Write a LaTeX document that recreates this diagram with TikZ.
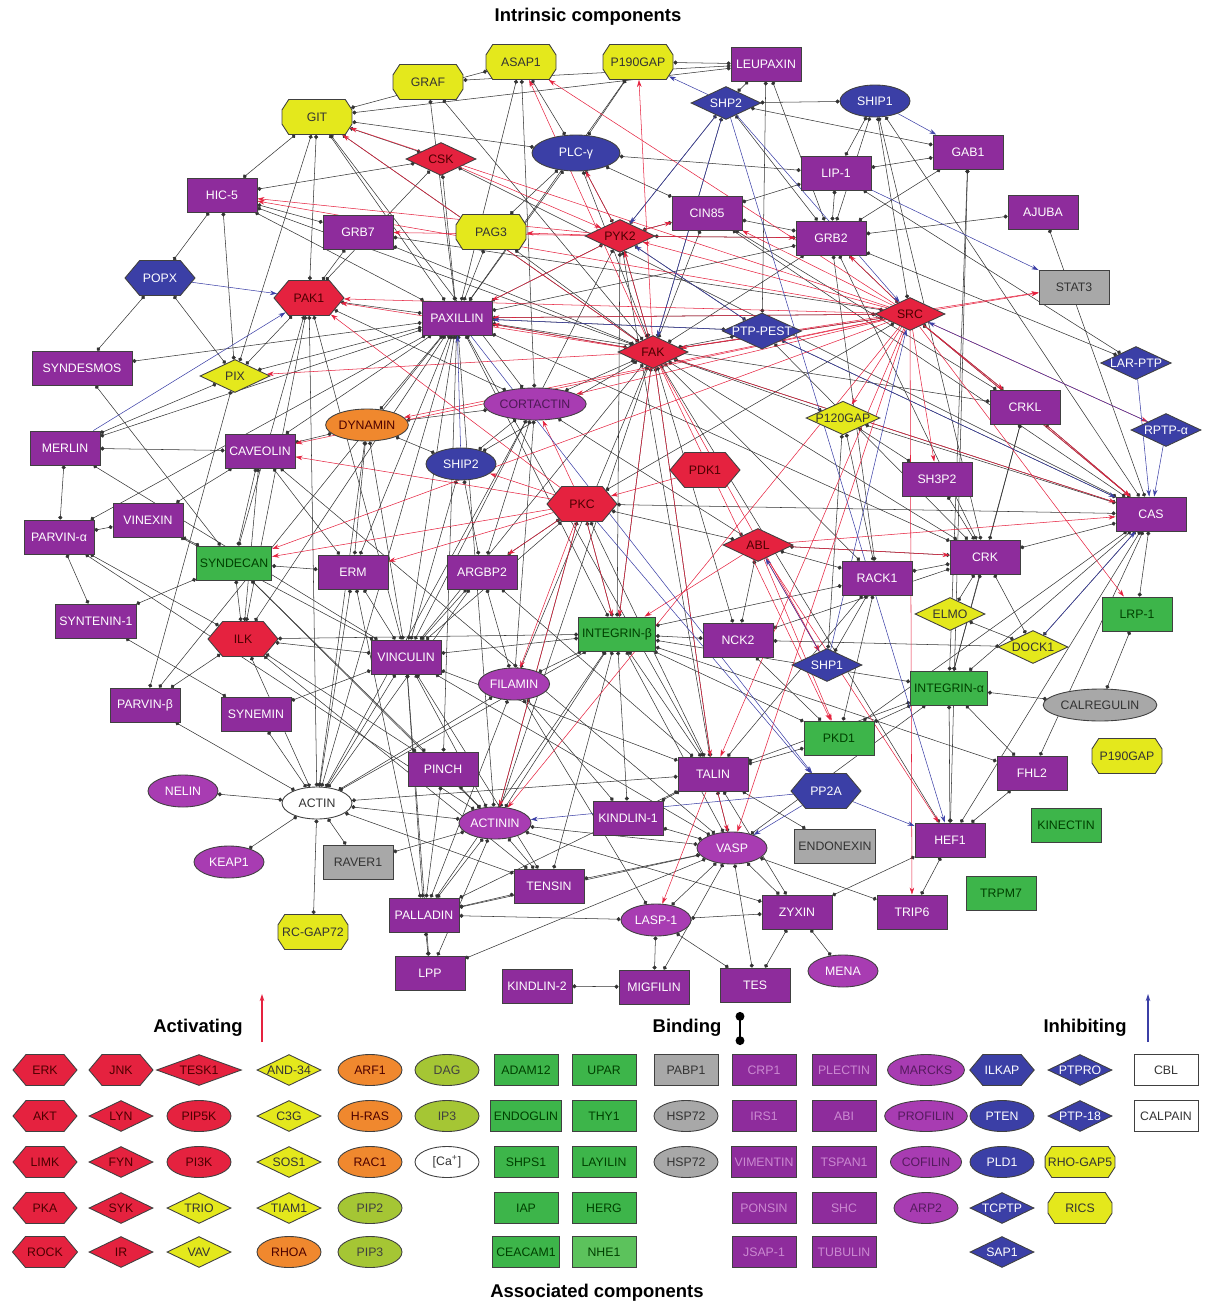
\documentclass[tikz,border=0pt]{standalone}
\usepackage{fontspec}
\setmainfont{Liberation Sans}
\usetikzlibrary{shapes.geometric,shapes.misc,shapes.symbols,arrows.meta,backgrounds}

\definecolor{mpur}{HTML}{8E2C9C}
\definecolor{lpur}{HTML}{A83CB2}
\definecolor{mblu}{HTML}{3B3FA6}
\definecolor{mred}{HTML}{E5223F}
\definecolor{myel}{HTML}{E4E81C}
\definecolor{mgrn}{HTML}{3DB54A}
\definecolor{lgrn}{HTML}{5CC25C}
\definecolor{mora}{HTML}{F0882E}
\definecolor{mgry}{HTML}{A8A8A8}
\definecolor{mlim}{HTML}{A5C634}

\tikzset{
  base/.style={draw=black!75, line width=0.5pt, font=\fontsize{7}{8}\selectfont, inner sep=2pt},
  box/.style={base, rectangle, minimum width=1.4cm, minimum height=0.68cm},
  ell/.style={base, ellipse, minimum width=1.4cm, minimum height=0.64cm, inner sep=0.5pt},
  dia/.style={base, diamond, aspect=2.2, minimum width=1.4cm, minimum height=0.66cm, inner sep=0pt},
  hexa/.style={base, signal, signal to=east and west, signal pointer angle=100, minimum width=1.4cm, minimum height=0.7cm, inner sep=1pt},
  oct/.style={base, chamfered rectangle, chamfered rectangle xsep=0.3cm, chamfered rectangle ysep=0.12cm, chamfered rectangle angle=33, minimum width=1.4cm, minimum height=0.7cm, inner sep=0pt},
  fpur/.style={fill=mpur, text=white},
  flpur/.style={fill=lpur, text=white},
  fblu/.style={fill=mblu, text=white},
  fred/.style={fill=mred, text=black!70!red},
  fyel/.style={fill=myel, text=black!80},
  fgrn/.style={fill=mgrn, text=black!75!green},
  fora/.style={fill=mora, text=black!70!red},
  fgry/.style={fill=mgry, text=black!80},
  fwht/.style={fill=white, text=black!80},
  flim/.style={fill=mlim, text=black!75},
  lg/.style={minimum width=1.28cm, minimum height=0.62cm},
  bind/.style={arrows={Circle[length=2.3pt]-Circle[length=2.3pt]}, draw=black!80, line width=0.3pt},
  act/.style={arrows={-Stealth[length=4pt,width=2.6pt]}, draw=mred, line width=0.3pt},
  inh/.style={arrows={-Stealth[length=4pt,width=2.6pt]}, draw=mblu, line width=0.3pt},
  ttl/.style={font=\fontsize{10.5}{12}\selectfont\bfseries}
}

\begin{document}
\begin{tikzpicture}[x=0.02cm, y=-0.02cm]
\useasboundingbox (0,0) rectangle (1220,1304);
% titles
\node[ttl] (tintr) at (588,17) {Intrinsic components};
\node[ttl] (tassoc) at (597,1293) {Associated components};

% intrinsic components
\node[oct,fyel] (graf) at (428,82) {GRAF};
\node[oct,fyel] (asap) at (521,62) {ASAP1};
\node[oct,fyel] (pgap) at (638,62) {P190GAP};
\node[box,fpur] (leup) at (766,64) {LEUPAXIN};
\node[oct,fyel] (git) at (317,117) {GIT};
\node[dia,fblu] (shpt) at (726,103) {SHP2};
\node[ell,fblu] (shipo) at (875,101) {SHIP1};
\node[dia,fred] (csk) at (441,159) {CSK};
\node[ell,fblu,minimum width=1.76cm,minimum height=0.72cm] (plc) at (576,153) {PLC-γ};
\node[box,fpur] (gab) at (968,152) {GAB1};
\node[box,fpur] (lip) at (836,173) {LIP-1};
\node[box,fpur] (hic) at (222,195) {HIC-5};
\node[box,fpur] (grbs) at (358,232) {GRB7};
\node[oct,fyel] (pag) at (491,232) {PAG3};
\node[dia,fred] (pyk) at (620,236) {PYK2};
\node[box,fpur] (cin) at (707,213) {CIN85};
\node[box,fpur] (grbt) at (831,238) {GRB2};
\node[box,fpur] (ajuba) at (1043,212) {AJUBA};
\node[hexa,fblu] (popx) at (160,278) {POPX};
\node[hexa,fred] (pak) at (309,298) {PAK1};
\node[box,fpur] (pax) at (457,318) {PAXILLIN};
\node[box,fgry] (stat) at (1074,287) {STAT3};
\node[dia,fblu] (pest) at (762,331) {PTP-PEST};
\node[dia,fred] (src) at (910,314) {SRC};
\node[dia,fred] (fak) at (653,352) {FAK};
\node[box,fpur,minimum width=2cm] (synd) at (82,368) {SYNDESMOS};
\node[dia,fyel] (pix) at (235,376) {PIX};
\node[dia,fblu] (lar) at (1136,363) {LAR-PTP};
\node[ell,flpur,text=mpur!55!black] (cort) at (535,404) {CORTACTIN};
\node[ell,fora] (dyn) at (367,425) {DYNAMIN};
\node[dia,fyel] (pcgap) at (843,418) {P120GAP};
\node[box,fpur] (crkl) at (1025,407) {CRKL};
\node[dia,fblu] (rptp) at (1166,430) {RPTP-α};
\node[box,fpur] (merlin) at (65,448) {MERLIN};
\node[box,fpur] (cav) at (260,451) {CAVEOLIN};
\node[ell,fblu] (shiptwo) at (461,464) {SHIP2};
\node[hexa,fred] (pdk) at (705,470) {PDK1};
\node[box,fpur] (shtp) at (937,479) {SH3P2};
\node[hexa,fred] (pkc) at (582,504) {PKC};
\node[box,fpur] (cas) at (1151,514) {CAS};
\node[box,fpur] (parva) at (59,537) {PARVIN-α};
\node[box,fpur] (vinex) at (148,520) {VINEXIN};
\node[box,fgrn] (syndc) at (234,563) {SYNDECAN};
\node[box,fpur] (erm) at (353,572) {ERM};
\node[box,fpur] (argbp) at (482,572) {ARGBP2};
\node[dia,fred] (abl) at (758,545) {ABL};
\node[box,fpur] (crk) at (985,557) {CRK};
\node[box,fpur] (rack) at (877,578) {RACK1};
\node[box,fpur] (synt) at (96,621) {SYNTENIN-1};
\node[hexa,fred] (ilk) at (243,639) {ILK};
\node[box,fgrn] (intb) at (617,634) {INTEGRIN-β};
\node[box,fpur] (nck) at (738,640) {NCK2};
\node[dia,fyel] (elmo) at (950,614) {ELMO};
\node[box,fgrn] (lrp) at (1137,614) {LRP-1};
\node[dia,fyel] (dock) at (1033,647) {DOCK1};
\node[box,fpur] (vinc) at (406,657) {VINCULIN};
\node[dia,fblu] (shpo) at (827,665) {SHP1};
\node[ell,flpur] (fil) at (514,684) {FILAMIN};
\node[box,fpur] (parvb) at (145,705) {PARVIN-β};
\node[box,fpur] (synem) at (256,714) {SYNEMIN};
\node[box,fgrn] (inta) at (949,688) {INTEGRIN-α};
\node[ell,fgry,minimum width=1.88cm] (calr) at (1100,705) {CALREGULIN};
\node[oct,fyel] (pgapr) at (1127,756) {P190GAP};
\node[box,fgrn] (pkd) at (839,738) {PKD1};
\node[box,fpur] (pinch) at (443,769) {PINCH};
\node[ell,flpur] (nelin) at (183,791) {NELIN};
\node[ell,fwht] (actin) at (317,803) {ACTIN};
\node[box,fpur] (talin) at (713,774) {TALIN};
\node[hexa,fblu] (ppa) at (826,791) {PP2A};
\node[box,fpur] (fhl) at (1032,773) {FHL2};
\node[ell,flpur] (actn) at (495,823) {ACTININ};
\node[box,fpur] (kinda) at (628,818) {KINDLIN-1};
\node[box,fgrn] (kinec) at (1066,825) {KINECTIN};
\node[box,fpur] (hef) at (950,840) {HEF1};
\node[ell,flpur] (vasp) at (732,848) {VASP};
\node[box,fgry] (endo) at (835,846) {ENDONEXIN};
\node[ell,flpur] (keap) at (229,862) {KEAP1};
\node[box,fgry] (raver) at (358,862) {RAVER1};
\node[box,fpur] (tensin) at (549,886) {TENSIN};
\node[box,fgrn] (trpm) at (1001,893) {TRPM7};
\node[box,fpur] (pall) at (424,915) {PALLADIN};
\node[ell,flpur] (lasp) at (656,920) {LASP-1};
\node[box,fpur] (zyxin) at (797,912) {ZYXIN};
\node[box,fpur] (trip) at (912,912) {TRIP6};
\node[oct,fyel] (rcgap) at (313,932) {RC-GAP72};
\node[ell,flpur] (mena) at (843,971) {MENA};
\node[box,fpur] (lpp) at (430,973) {LPP};
\node[box,fpur] (kindb) at (537,986) {KINDLIN-2};
\node[box,fpur] (migf) at (654,987) {MIGFILIN};
\node[box,fpur] (tes) at (755,985) {TES};

\begin{scope}[on background layer]
% binding
\foreach \a/\b in {git/hic,git/leup,git/plc,git/pak,git/pix,git/pax,git/fak,git/cort,
  graf/leup,graf/pax,graf/fak,asap/pax,asap/cort,asap/plc,asap/git,
  pgap/leup,pgap/plc,pgap/pax,leup/shpt,leup/pest,leup/grbt,
  shpt/shipo,shpt/pyk,shpt/grbt,shpt/gab,shpt/fak,
  shipo/lip,shipo/grbt,shipo/src,shipo/cas,shipo/crk,
  gab/lip,gab/grbt,gab/hef,gab/inta,lip/grbt,lip/lar,lip/cin,
  csk/hic,csk/pax,csk/git,csk/pak,csk/cas,
  plc/pax,plc/pyk,plc/fak,plc/lip,plc/pag,plc/cin,
  hic/popx,hic/grbs,hic/fak,hic/pix,hic/pax,grbs/pak,grbs/fak,grbs/src,
  pag/pax,pag/fak,pyk/pax,pyk/cin,pyk/fak,pyk/grbt,pyk/vinc,pyk/pest,pyk/talin,pyk/intb,
  cin/grbt,cin/fak,cin/cas,cin/crkl,
  grbt/ajuba,grbt/src,grbt/fak,grbt/crk,grbt/pax,grbt/rack,grbt/lar,ajuba/cas,
  popx/synd,popx/pix,pak/pix,pak/pax,pak/vinc,pak/actin,pak/syndc,pak/cort,pak/ilk,
  pax/vinc,pax/fak,pax/actin,pax/talin,pax/ilk,pax/synd,pax/cav,pax/parvb,pax/intb,
  pax/dyn,pax/crk,pax/erm,pax/pinch,pax/pest,pax/src,pax/merlin,pax/actn,pax/parva,
  pest/cas,pest/fak,pest/crk,src/cas,src/fak,src/crkl,src/pkc,
  fak/talin,fak/intb,fak/cas,fak/crk,fak/vinc,fak/fil,fak/actn,fak/nck,fak/rack,
  fak/pcgap,fak/cort,fak/shiptwo,synd/syndc,pix/parvb,pix/merlin,pix/pax,
  cort/dyn,cort/shiptwo,cort/actin,cort/fil,cort/abl,cort/argbp,
  dyn/cav,dyn/actin,dyn/erm,dyn/vinc,pcgap/rack,pcgap/shpo,pcgap/cas,
  crkl/cas,crkl/crk,crkl/pax,crkl/inta,merlin/cav,merlin/parva,merlin/vinc,
  cav/syndc,cav/ilk,cav/vasp,cav/erm,shiptwo/argbp,shiptwo/dyn,shiptwo/vinc,
  shtp/crk,shtp/pcgap,pkc/intb,pkc/argbp,pkc/abl,pkc/vinc,pkc/talin,pkc/actn,pkc/cas,
  cas/crk,cas/inta,cas/hef,cas/dock,cas/pkd,cas/fhl,
  parva/synt,parva/ilk,parva/vinex,parva/actn,vinex/cav,vinex/syndc,vinex/vinc,
  syndc/ilk,syndc/erm,syndc/synt,syndc/actn,syndc/pinch,erm/vinc,erm/actin,erm/pall,
  argbp/fil,argbp/vinc,argbp/actin,argbp/talin,abl/crk,abl/rack,abl/nck,
  crk/elmo,crk/dock,crk/rack,crk/inta,crk/nck,rack/intb,rack/shpo,rack/pkd,rack/talin,
  synt/synem,ilk/intb,ilk/parvb,ilk/pinch,ilk/vinc,ilk/actin,ilk/tensin,
  intb/talin,intb/fil,intb/vinc,intb/actn,intb/pkd,intb/nck,intb/vasp,intb/tensin,
  intb/kinda,intb/inta,intb/actin,intb/pall,intb/fhl,nck/pkd,nck/dock,elmo/dock,
  lrp/calr,lrp/cas,vinc/actin,vinc/actn,vinc/talin,vinc/pall,vinc/tensin,vinc/vasp,
  vinc/synem,vinc/lpp,fil/actin,fil/lasp,fil/pall,fil/kinda,parvb/actin,synem/actin,
  inta/calr,inta/pkd,inta/fhl,inta/hef,inta/talin,inta/vasp,pkd/talin,
  pinch/actn,pinch/pall,nelin/actin,actin/keap,actin/rcgap,actin/actn,actin/raver,
  actin/tensin,actin/talin,talin/vasp,talin/zyxin,talin/endo,talin/kinda,talin/pall,
  fhl/hef,actn/raver,actn/pall,actn/lpp,actn/zyxin,actn/tensin,actn/vasp,
  hef/trip,hef/zyxin,hef/fak,vasp/zyxin,vasp/lasp,vasp/tes,vasp/migf,vasp/pall,
  vasp/lpp,vasp/trip,vasp/kinda,vasp/tensin,pall/lpp,pall/lasp,pall/tensin,
  lasp/zyxin,lasp/migf,lasp/tes,zyxin/tes,zyxin/mena,kindb/migf}
  \draw[bind] (\a) -- (\b);
% activating
\foreach \a/\b in {src/cas,src/stat,src/grbt,src/cin,src/pyk,src/pax,src/fak,src/cort,
  src/pak,src/asap,src/git,src/hic,src/crkl,src/shtp,src/lrp,src/pcgap,src/rptp,
  src/cav,src/dyn,src/trip,src/talin,src/vasp,src/syndc,src/actn,
  fak/pax,fak/pak,fak/pgap,fak/asap,fak/git,fak/talin,fak/shpo,fak/pkd,fak/cas,
  fak/stat,fak/pix,fak/pyk,fak/intb,pyk/pag,pyk/cin,pyk/hic,pyk/pax,pyk/grbt,
  pyk/plc,pyk/grbs,pkc/intb,pkc/argbp,pkc/fil,pkc/erm,pkc/cort,pkc/syndc,pkc/actn,
  pkc/shiptwo,pkc/pak,pkc/cav,abl/intb,abl/shpo,abl/pkd,abl/crk,abl/hef,abl/cas,
  pdk/pkc,talin/lasp,talin/vasp,crkl/cas,csk/pyk}
  \draw[act] (\a) -- (\b);
% inhibiting
\foreach \a/\b in {popx/pak,shpt/pyk,shpt/fak,shpt/pgap,pest/pax,pest/cas,rptp/cas,
  rptp/src,lar/cas,shipo/gab,lip/stat,ppa/hef,ppa/vasp,shpo/src,shpo/abl,ppa/actn,
  dock/cas,merlin/pak,shiptwo/pax,pest/pyk,shpt/hef,pkc/ppa,shpt/src,pax/ppa}
  \draw[inh] (\a) -- (\b);
\end{scope}

% associated components
\foreach \y/\t in {1070/ERK,1116/AKT,1162/LIMK,1208/PKA,1252/ROCK}
  \node[hexa,fred,lg] (ca-\y) at (45,\y) {\t};
\node[hexa,fred,lg] (cb-1070) at (121,1070) {JNK};
\foreach \y/\t in {1116/LYN,1162/FYN,1208/SYK,1252/IR}
  \node[dia,fred,lg] (cb-\y) at (121,\y) {\t};
\node[dia,fred,lg,minimum width=1.7cm] (cc-1070) at (199,1070) {TESK1};
\foreach \y/\t in {1116/PIP5K,1162/PI3K}
  \node[ell,fred,lg] (cc-\y) at (199,\y) {\t};
\foreach \y/\t in {1208/TRIO,1252/VAV}
  \node[dia,fyel,lg] (cc-\y) at (199,\y) {\t};
\foreach \y/\t in {1070/AND-34,1116/C3G,1162/SOS1,1208/TIAM1}
  \node[dia,fyel,lg] (cd-\y) at (289,\y) {\t};
\node[ell,fora,lg] (cd-1252) at (289,1252) {RHOA};
\foreach \y/\t in {1070/ARF1,1116/H-RAS,1162/RAC1}
  \node[ell,fora,lg] (ce-\y) at (370,\y) {\t};
\foreach \y/\t in {1208/PIP2,1252/PIP3}
  \node[ell,flim,lg] (ce-\y) at (370,\y) {\t};
\foreach \y/\t in {1070/DAG,1116/IP3}
  \node[ell,flim,lg] (cf-\y) at (447,\y) {\t};
\node[ell,fwht,lg] (cf-1162) at (447,1162) {[Ca\textsuperscript{+}]};
\foreach \y/\t in {1070/ADAM12,1116/ENDOGLIN,1162/SHPS1,1208/IAP,1252/CEACAM1}
  \node[box,fgrn,lg] (cg-\y) at (526,\y) {\t};
\foreach \y/\t in {1070/UPAR,1116/THY1,1162/LAYILIN,1208/HERG}
  \node[box,fgrn,lg] (ch-\y) at (604,\y) {\t};
\node[box,fgrn,lg,fill=lgrn] (ch-1252) at (604,1252) {NHE1};
\node[box,fgry,lg] (ci-1070) at (686,1070) {PABP1};
\foreach \y in {1116,1162}
  \node[ell,fgry,lg] (ci-\y) at (686,\y) {HSP72};
\foreach \y/\t in {1070/CRP1,1116/IRS1,1162/VIMENTIN,1208/PONSIN,1252/JSAP-1}
  \node[box,fpur,lg,text=lpur!60!white] (cj-\y) at (764,\y) {\t};
\foreach \y/\t in {1070/PLECTIN,1116/ABI,1162/TSPAN1,1208/SHC,1252/TUBULIN}
  \node[box,fpur,lg,text=lpur!60!white] (ck-\y) at (844,\y) {\t};
\foreach \y/\t in {1070/MARCKS,1116/PROFILIN,1162/COFILIN,1208/ARP2/3}
  \node[ell,flpur,lg,text=mpur!60!black] (cl-\y) at (926,\y) {\t};
\node[hexa,fblu,lg] (cm-1070) at (1002,1070) {ILKAP};
\foreach \y/\t in {1116/PTEN,1162/PLD1}
  \node[ell,fblu,lg] (cm-\y) at (1002,\y) {\t};
\foreach \y/\t in {1208/TCPTP,1252/SAP1}
  \node[dia,fblu,lg] (cm-\y) at (1002,\y) {\t};
\foreach \y/\t in {1070/PTPRO,1116/PTP-18}
  \node[dia,fblu,lg] (cn-\y) at (1080,\y) {\t};
\foreach \y/\t in {1162/RHO-GAP5,1208/RICS}
  \node[oct,fyel,lg] (cn-\y) at (1080,\y) {\t};
\foreach \y/\t in {1070/CBL,1116/CALPAIN}
  \node[box,fwht,lg] (co-\y) at (1166,\y) {\t};

% key
\node[ttl] (tact) at (198,1028) {Activating};
\coordinate (acta) at (262,1042);
\coordinate (actb) at (262,994);
\draw[act, line width=0.6pt] (acta) -- (actb);
\node[ttl] (tbind) at (687,1028) {Binding};
\coordinate (binda) at (740,1012);
\coordinate (bindb) at (740,1045);
\draw[arrows={Circle[length=5pt]-Circle[length=5pt]}, line width=1.2pt] (binda) -- (bindb);
\node[ttl] (tinh) at (1085,1028) {Inhibiting};
\coordinate (inha) at (1148,1042);
\coordinate (inhb) at (1148,994);
\draw[inh, line width=0.6pt] (inha) -- (inhb);
\end{tikzpicture}
\end{document}
